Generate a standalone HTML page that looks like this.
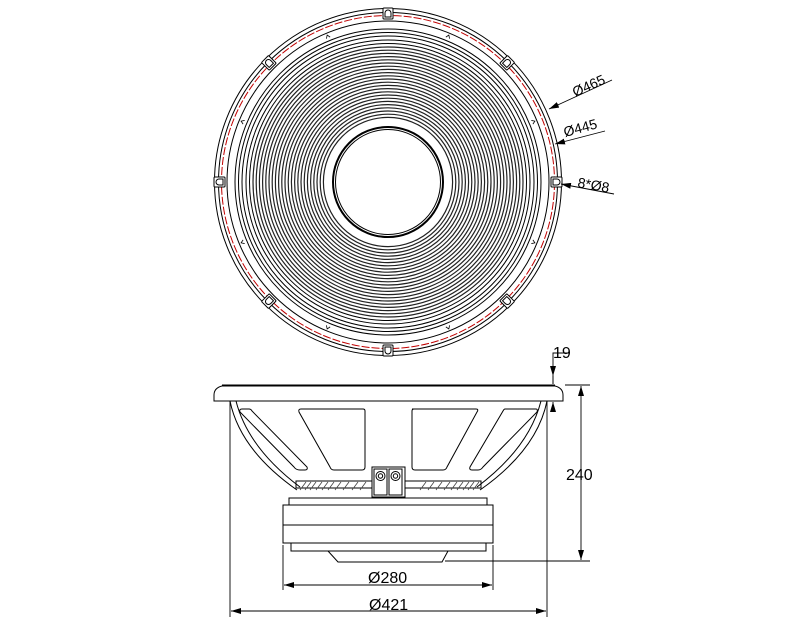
<!DOCTYPE html>
<html><head><meta charset="utf-8"><style>html,body{margin:0;padding:0;background:#fff}svg{display:block}</style></head><body>
<svg width="800" height="626" viewBox="0 0 800 626" xmlns="http://www.w3.org/2000/svg" font-family="Liberation Sans, sans-serif">
<defs>
<marker id="ar" markerWidth="10" markerHeight="6" refX="10" refY="3" orient="auto" markerUnits="userSpaceOnUse"><path d="M0,0 L10,3 L0,6 Z" fill="#000"/></marker>
<marker id="as" markerWidth="10" markerHeight="6" refX="0" refY="3" orient="auto" markerUnits="userSpaceOnUse"><path d="M10,0 L0,3 L10,6 Z" fill="#000"/></marker>
</defs>
<g fill="none" stroke="#000" stroke-width="1">
<circle cx="388" cy="182" r="173.5"/>
<circle cx="388" cy="182" r="169.5"/>
<circle cx="388" cy="182" r="166.5" stroke="#c00000" stroke-dasharray="8,2"/>
<circle cx="388" cy="182" r="161"/>
<circle cx="388" cy="182" r="153"/>
<circle cx="388" cy="182" r="149.5"/>
<circle cx="388" cy="182" r="146"/>
<circle cx="388" cy="182" r="142"/>
<circle cx="388" cy="182" r="138.5"/>
<g stroke="#222" stroke-width="1.2">
<circle cx="388" cy="182" r="135"/><circle cx="388" cy="182" r="131.8"/><circle cx="388" cy="182" r="128.6"/><circle cx="388" cy="182" r="125.4"/><circle cx="388" cy="182" r="122.2"/><circle cx="388" cy="182" r="119"/><circle cx="388" cy="182" r="115.8"/><circle cx="388" cy="182" r="112.6"/><circle cx="388" cy="182" r="109.4"/><circle cx="388" cy="182" r="106.2"/><circle cx="388" cy="182" r="103"/><circle cx="388" cy="182" r="99.8"/><circle cx="388" cy="182" r="96.6"/><circle cx="388" cy="182" r="93.4"/><circle cx="388" cy="182" r="90.2"/><circle cx="388" cy="182" r="87"/><circle cx="388" cy="182" r="83.8"/><circle cx="388" cy="182" r="80.6"/><circle cx="388" cy="182" r="77.4"/><circle cx="388" cy="182" r="74.2"/><circle cx="388" cy="182" r="71"/><circle cx="388" cy="182" r="67.8"/><circle cx="388" cy="182" r="64.6"/>
</g>
<circle cx="388" cy="182" r="55" stroke-width="2"/>
<circle cx="388" cy="182" r="52.5"/>
</g>
<g fill="#fff" stroke="#000" stroke-width="1">
<g transform="translate(388,182)">
<g transform="rotate(0)"><rect x="-5" y="-174" width="10" height="11" rx="1"/><path d="M-3,-165 v-4 a3,3 0 0 1 6,0 v4 z"/></g>
<g transform="rotate(45)"><rect x="-5" y="-174" width="10" height="11" rx="1"/><path d="M-3,-165 v-4 a3,3 0 0 1 6,0 v4 z"/></g>
<g transform="rotate(90)"><rect x="-5" y="-174" width="10" height="11" rx="1"/><path d="M-3,-165 v-4 a3,3 0 0 1 6,0 v4 z"/></g>
<g transform="rotate(135)"><rect x="-5" y="-174" width="10" height="11" rx="1"/><path d="M-3,-165 v-4 a3,3 0 0 1 6,0 v4 z"/></g>
<g transform="rotate(180)"><rect x="-5" y="-174" width="10" height="11" rx="1"/><path d="M-3,-165 v-4 a3,3 0 0 1 6,0 v4 z"/></g>
<g transform="rotate(225)"><rect x="-5" y="-174" width="10" height="11" rx="1"/><path d="M-3,-165 v-4 a3,3 0 0 1 6,0 v4 z"/></g>
<g transform="rotate(270)"><rect x="-5" y="-174" width="10" height="11" rx="1"/><path d="M-3,-165 v-4 a3,3 0 0 1 6,0 v4 z"/></g>
<g transform="rotate(315)"><rect x="-5" y="-174" width="10" height="11" rx="1"/><path d="M-3,-165 v-4 a3,3 0 0 1 6,0 v4 z"/></g>
<g fill="none" stroke-width="0.8">
<path d="M-2,-156 l2,-3 l2,3" transform="rotate(22.5)"/><path d="M-2,-156 l2,-3 l2,3" transform="rotate(67.5)"/><path d="M-2,-156 l2,-3 l2,3" transform="rotate(112.5)"/><path d="M-2,-156 l2,-3 l2,3" transform="rotate(157.5)"/><path d="M-2,-156 l2,-3 l2,3" transform="rotate(202.5)"/><path d="M-2,-156 l2,-3 l2,3" transform="rotate(247.5)"/><path d="M-2,-156 l2,-3 l2,3" transform="rotate(292.5)"/><path d="M-2,-156 l2,-3 l2,3" transform="rotate(337.5)"/>
</g>
</g>
</g>
<g stroke="#000" stroke-width="0.9" fill="none">
<line x1="612" y1="80" x2="549" y2="109" marker-end="url(#ar)"/>
<line x1="605" y1="131" x2="555" y2="144" marker-end="url(#ar)"/>
<line x1="614" y1="194" x2="561" y2="184" marker-end="url(#ar)"/>
</g>
<g font-size="14" fill="#000">
<text transform="translate(575,97) rotate(-24)">Ø465</text>
<text transform="translate(565,137) rotate(-15)">Ø445</text>
<text transform="translate(577,187) rotate(10)">8*Ø8</text>
</g>
<g fill="none" stroke="#000" stroke-width="1">
<line x1="222" y1="385" x2="555" y2="385"/>
<path d="M222,386 H555 Q563,388 563,395 V401 H214 V395 Q214,388 222,386 Z"/>
<path d="M230,401 Q240,450 297,490"/><path d="M236,401 Q248,448 300,487"/>
<path d="M547,401 Q537,450 480,490"/><path d="M541,401 Q529,448 477,487"/>
<path d="M242,409 H249 Q251,409 252,411 L307,467 Q308,470 305,470 H300 Q296,470 294,467 L240,412 Q239,409 242,409 Z"/>
<path d="M301,409 H363 Q365,409 365,411 V467 Q365,470 362,470 H334 Q331,470 330,467 L299,412 Q298,409 301,409 Z"/>
<path d="M412,409 H476 Q479,409 477,412 L447,467 Q446,470 443,470 H415 Q412,470 412,467 V411 Q412,409 414,409 Z"/>
<path d="M505,409 H536 Q538,409 537,412 L483,467 Q481,470 478,470 H472 Q469,470 470,467 L503,411 Q504,409 505,409 Z"/>
<rect x="296" y="481" width="185" height="7"/>
<rect x="289" y="498" width="198" height="7"/>
<rect x="283" y="505" width="210" height="38"/>
<line x1="283" y1="525" x2="493" y2="525"/>
<rect x="291" y="543" width="195" height="8"/>
<path d="M328,551 L338,562 H442 L448,551"/>
<rect x="372" y="467" width="33" height="30" fill="#fff"/>
<rect x="374" y="469" width="13" height="26"/><rect x="389" y="469" width="13" height="26"/>
<circle cx="380.5" cy="476" r="4.5"/><circle cx="380.5" cy="476" r="2.2"/>
<circle cx="395.5" cy="476" r="4.5"/><circle cx="395.5" cy="476" r="2.2"/>
</g>
<g stroke="#444" stroke-width="0.8">
<path d="M300,490 l6,-8 M305,490 l6,-8 M310,490 l6,-8 M316,490 l6,-8 M322,490 l6,-8 M328,490 l6,-8 M335,490 l6,-8 M343,490 l6,-8 M352,490 l6,-8 M360,490 l6,-8"/>
<path d="M420,490 l6,-8 M428,490 l6,-8 M436,490 l6,-8 M444,490 l6,-8 M451,490 l6,-8 M457,490 l6,-8 M463,490 l6,-8 M468,490 l6,-8 M473,490 l6,-8"/>
</g>
<g stroke="#000" stroke-width="0.9" fill="none">
<line x1="230" y1="401" x2="230" y2="617"/>
<line x1="547" y1="401" x2="547" y2="617"/>
<line x1="283" y1="545" x2="283" y2="590"/>
<line x1="493" y1="545" x2="493" y2="590"/>
<line x1="284" y1="585" x2="492" y2="585" marker-start="url(#as)" marker-end="url(#ar)"/>
<line x1="231" y1="611" x2="546" y2="611" marker-start="url(#as)" marker-end="url(#ar)"/>
<line x1="565" y1="385" x2="590" y2="385"/>
<line x1="445" y1="561" x2="590" y2="561"/>
<line x1="581" y1="386" x2="581" y2="560" marker-start="url(#as)" marker-end="url(#ar)"/>
<polyline points="570,353 553,353 553,384"/>
<line x1="553" y1="384" x2="553" y2="376" marker-end="url(#as)"/>
<line x1="553" y1="410" x2="553" y2="402" marker-end="url(#ar)"/>
</g>
<g font-size="16" fill="#000">
<text x="553" y="358">19</text>
<text x="566" y="480">240</text>
<text x="368" y="583">Ø280</text>
<text x="369" y="610">Ø421</text>
</g>
</svg>
</body></html>
